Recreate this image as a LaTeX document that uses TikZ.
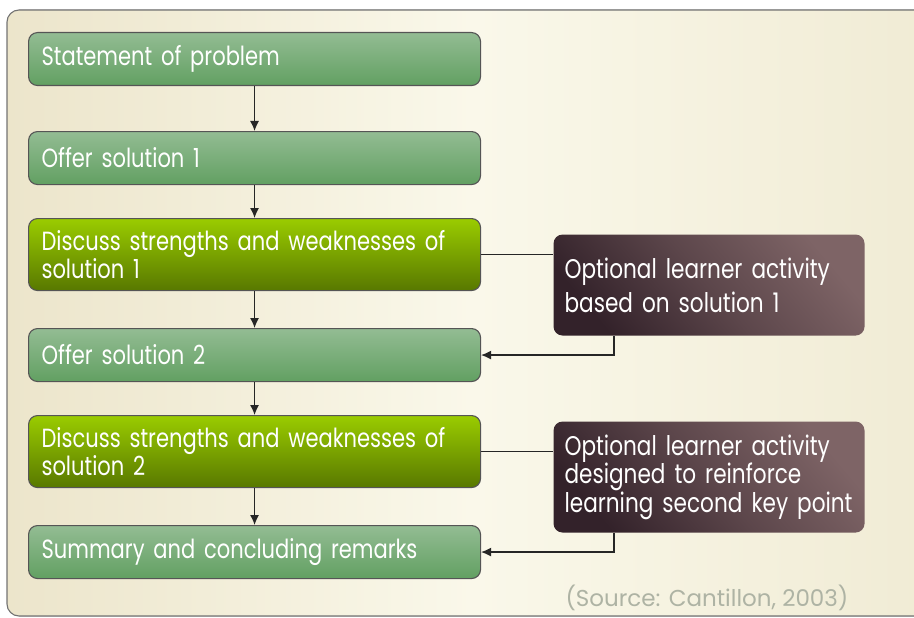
\documentclass[tikz,border=0pt]{standalone}
\usepackage{fontspec}
\setmainfont{Poppins}
\newfontfamily\cond{Poppins}[FakeStretch=0.8]
\usetikzlibrary{arrows.meta}
\definecolor{bgA}{HTML}{ECE5CB}
\definecolor{bgB}{HTML}{FAF8EA}
\definecolor{bgC}{HTML}{F0EBD4}
\definecolor{grT}{HTML}{93BC93}
\definecolor{grB}{HTML}{62A062}
\definecolor{limeT}{HTML}{9ACC00}
\definecolor{limeB}{HTML}{587800}
\definecolor{brD}{HTML}{33222A}
\definecolor{brL}{HTML}{7E6466}
\definecolor{edge}{HTML}{555555}
\definecolor{srcgray}{HTML}{AEB3A4}
\tikzset{
  base/.style={draw=edge, line width=1.1pt, rounded corners=9pt, anchor=north west,
    text=white, align=left, inner xsep=13pt, inner ysep=0pt,
    font=\cond\fontsize{26.3}{26}\selectfont},
  gbox/.style={base, top color=grT, bottom color=grB, minimum width=452pt,
    minimum height=53pt, text width=426pt},
  lbox/.style={base, top color=limeT, bottom color=limeB, minimum width=452pt,
    minimum height=72pt, text width=426pt},
  dbox/.style={base, draw=none, bottom color=brD, top color=brL, middle color=brL!55!brD,
    shading angle=-50, minimum width=311pt, text width=289pt, inner xsep=11pt},
  conn/.style={draw=black!85, line width=1.2pt},
  arr/.style={conn, -{Latex[length=10pt,width=9pt]}}
}
\begin{document}
\begin{tikzpicture}[x=1pt,y=-1pt]
\useasboundingbox (0,0) rectangle (914,618);
\begin{scope}
\clip (0,0) rectangle (914,618);
\fill[left color=bgA, right color=bgC, middle color=bgB, rounded corners=12pt] (7,10) rectangle (940,616);
\draw[draw=black!55, line width=1.1pt, rounded corners=12pt] (7,10) rectangle (940,616);
\end{scope}

\node[gbox] (s1) at (28,32) {Statement of problem};
\node[gbox] (s2) at (28,131) {Offer solution 1};
\node[lbox] (s3) at (28,218) {Discuss strengths and weaknesses of\\solution 1};
\node[gbox] (s4) at (28,328) {Offer solution 2};
\node[lbox] (s5) at (28,415) {Discuss strengths and weaknesses of\\solution 2};
\node[gbox] (s6) at (28,525) {Summary and concluding remarks};

\node[dbox, minimum height=101pt, font=\cond\fontsize{27}{34}\selectfont] (o1) at (553,234) {\mbox{Optional learner activity}\\\mbox{based on solution 1}};
\node[dbox, minimum height=111pt, font=\cond\fontsize{27}{28.5}\selectfont] (o2) at (553,421) {\mbox{Optional learner activity}\\\mbox{designed to reinforce}\\\mbox{learning second key point}};

\draw[arr] (s1.south) -- (s2.north);
\draw[arr] (s2.south) -- (s3.north);
\draw[arr] (s3.south) -- (s4.north);
\draw[arr] (s4.south) -- (s5.north);
\draw[arr] (s5.south) -- (s6.north);

\draw[conn] (s3.east) -- (o1.west |- s3.east);
\coordinate (b1) at ([xshift=61pt]o1.south west);
\draw[arr] (b1) |- (s4.east);
\draw[conn] (s5.east) -- (o2.west |- s5.east);
\coordinate (b2) at ([xshift=61pt]o2.south west);
\draw[arr] (b2) |- (s6.east);

\node[anchor=west, text=srcgray, font=\fontsize{23}{23}\selectfont] (src) at (562,598) {(Source: Cantillon, 2003)};
\end{tikzpicture}
\end{document}
